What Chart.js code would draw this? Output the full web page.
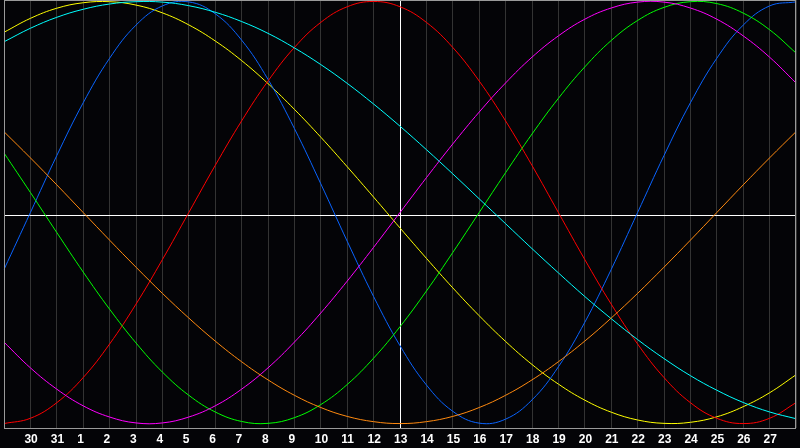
<!DOCTYPE html>
<html>
<head>
<meta charset="utf-8">
<script src="https://cdn.jsdelivr.net/npm/chart.js@4"></script>
<style>
  html, body { margin: 0; padding: 0; background: #040407; }
  #wrap { width: 800px; height: 448px; }
</style>
</head>
<body>
<div id="wrap"><canvas id="bio" width="800" height="448"></canvas></div>
<script>
// day labels along the bottom (first and last slot have no label)
var days = ['29', '30', '31', '1', '2', '3', '4', '5', '6', '7', '8', '9', '10', '11', '12', '13',
            '14', '15', '16', '17', '18', '19', '20', '21', '22', '23', '24', '25', '26', '27', '28'];

// values in percent, one per day
var red = [-100, -97.5, -90.1, -78.2, -62.3, -43.4, -22.3, 0, 22.3, 43.4, 62.3, 78.2, 90.1, 97.5, 100, 97.5,
           90.1, 78.2, 62.3, 43.4, 22.3, 0, -22.3, -43.4, -62.3, -78.2, -90.1, -97.5, -100, -97.5, -90.1];
var green = [28.2, 9.5, -9.5, -28.2, -45.8, -61.8, -75.6, -86.6, -94.5, -99.0, -99.9, -97.2, -91.0, -81.5, -69.0, -54.1,
             -37.2, -18.9, 0, 18.9, 37.2, 54.1, 69.0, 81.5, 91.0, 97.2, 99.9, 99.0, 94.5, 86.6, 75.6];
var blue = [-27.0, 0, 27.0, 52.0, 73.1, 88.8, 97.9, 99.8, 94.2, 81.7, 63.1, 39.8, 13.6, -13.6, -39.8, -63.1,
            -81.7, -94.2, -99.8, -97.9, -88.8, -73.1, -52.0, -27.0, 0, 27.0, 52.0, 73.1, 88.8, 97.9, 99.8];
var yellow = [85.4, 92.0, 96.8, 99.4, 99.9, 98.3, 94.6, 88.9, 81.3, 72.0, 61.1, 48.9, 35.7, 21.7, 7.3, -7.3,
              -21.7, -35.7, -48.9, -61.1, -72.0, -81.3, -88.9, -94.6, -98.3, -99.9, -99.4, -96.8, -92.0, -85.4, -76.9];
var cyan = [80.9, 87.3, 92.5, 96.3, 98.8, 99.9, 99.7, 98.0, 94.9, 90.5, 84.9, 78.0, 70.1, 61.2, 51.4, 40.9,
            29.8, 18.3, 6.5, -5.3, -17.1, -28.6, -39.8, -50.3, -60.2, -69.2, -77.3, -84.2, -90.0, -94.5, -97.7];
var magenta = [-61.4, -73.6, -83.7, -91.6, -96.9, -99.7, -99.7, -96.9, -91.6, -83.7, -73.6, -61.4, -47.6, -32.5, -16.5, 0,
               16.5, 32.5, 47.6, 61.4, 73.6, 83.7, 91.6, 96.9, 99.7, 99.7, 96.9, 91.6, 83.7, 73.6, 61.4];
var orange = [38.3, 25.9, 13.1, 0, -13.1, -25.9, -38.3, -50.0, -60.9, -70.7, -79.3, -86.6, -92.4, -96.6, -99.1, -100,
              -99.1, -96.6, -92.4, -86.6, -79.3, -70.7, -60.9, -50.0, -38.3, -25.9, -13.1, 0, 13.1, 25.9, 38.3];

var todayIndex = 15;

function line(values, color) {
    return {
        data: values,
        borderColor: color,
        borderWidth: 1,
        pointRadius: 0,
        fill: false,
        tension: 0.4
    };
}

// white cross-hair (today + zero line) and the frame round the plot
var frame = {
    id: 'frame',
    beforeDatasetsDraw: function (chart) {
        var ctx = chart.ctx, a = chart.chartArea;
        var x = Math.round(chart.scales.x.getPixelForValue(todayIndex)) + 0.5;
        var y = Math.round(chart.scales.y.getPixelForValue(-1)) + 0.5;
        ctx.save();
        ctx.strokeStyle = '#ffffff';
        ctx.lineWidth = 1;
        ctx.beginPath();
        ctx.moveTo(x, a.top);
        ctx.lineTo(x, a.bottom);
        ctx.moveTo(a.left, y);
        ctx.lineTo(a.right, y);
        ctx.stroke();
        ctx.restore();
    },
    afterDraw: function (chart) {
        var ctx = chart.ctx, a = chart.chartArea;
        ctx.save();
        ctx.strokeStyle = '#9a9a9a';
        ctx.lineWidth = 1;
        ctx.strokeRect(a.left + 0.5, a.top + 0.5, a.right - a.left - 1, a.bottom - a.top);
        ctx.restore();
    }
};

new Chart(document.getElementById('bio'), {
    type: 'line',
    data: {
        labels: days,
        datasets: [
            line(orange, '#ff8a10'),
            line(cyan, '#00ffff'),
            line(magenta, '#ff00ff'),
            line(green, '#00ff00'),
            line(red, '#ff0000'),
            line(blue, '#0a64ff'),
            line(yellow, '#ffff00')
        ]
    },
    options: {
        responsive: false,
        animation: false,
        layout: { padding: 0 },
        plugins: { legend: { display: false }, tooltip: { enabled: false } },
        scales: {
            x: {
                offset: false,
                grid: { color: '#333333', lineWidth: 1, drawTicks: false },
                border: { display: false },
                ticks: {
                    autoSkip: false,
                    maxRotation: 0,
                    align: 'start',
                    labelOffset: -6,
                    padding: 4,
                    color: '#ffffff',
                    font: { family: 'Liberation Sans', size: 12, weight: 'bold' },
                    callback: function (v, i) {
                        return (i === 0 || i === days.length - 1) ? '' : days[i];
                    }
                },
                afterFit: function (scale) { scale.height = 20; }
            },
            y: {
                display: false,
                min: -102.1,
                max: 100.7
            }
        }
    },
    plugins: [frame]
});
</script>
</body>
</html>
